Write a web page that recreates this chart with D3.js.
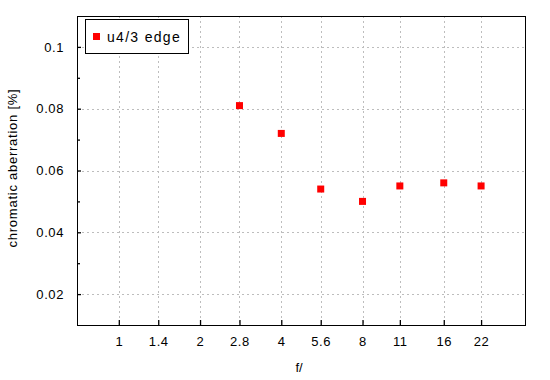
<!DOCTYPE html>
<html><head><meta charset="utf-8">
<script src="https://cdn.jsdelivr.net/npm/d3@7"></script>
<style>body{margin:0;background:#fff}text{font-family:"Liberation Sans",Arial,sans-serif;fill:#000}</style>
</head><body><svg id="c" width="550" height="380"></svg>
<script>
const fStops = [1, 1.4, 2, 2.8, 4, 5.6, 8, 11, 16, 22];
const dataF = [2.8, 4, 5.6, 8, 11, 16, 22];
const dataCA = [0.081, 0.072, 0.054, 0.050, 0.055, 0.056, 0.055];
const yMajor = [0.02, 0.04, 0.06, 0.08, 0.1];
const yMinor = [0.03, 0.05, 0.07, 0.09];
const seriesName = "u4/3 edge";

const svg = d3.select("#c");
const L = 77, R = 525, T = 16, B = 325;
const x = d3.scaleLog().base(2).domain([0.7, 32]).range([L, R]);
const y = d3.scaleLinear().domain([0.01, 0.11]).range([B, T]);

// grid
const g = svg.append("g").attr("stroke", "#bdbdbd").attr("stroke-dasharray", "2,3").attr("shape-rendering", "crispEdges");
g.selectAll("line.v").data(fStops).join("line")
  .attr("x1", d => Math.round(x(d)) + 0.5).attr("x2", d => Math.round(x(d)) + 0.5)
  .attr("y1", T).attr("y2", B);
g.selectAll("line.h").data(yMajor).join("line")
  .attr("y1", d => Math.round(y(d)) + 0.5).attr("y2", d => Math.round(y(d)) + 0.5)
  .attr("x1", L).attr("x2", R);

// frame
svg.append("rect").attr("x", L + 0.5).attr("y", T + 0.5).attr("width", R - L).attr("height", B - T)
  .attr("fill", "none").attr("stroke", "#000").attr("stroke-width", 1.3).attr("shape-rendering", "crispEdges");

// axes
const xAxis = d3.axisBottom(x).tickValues(fStops).tickFormat(d => String(d)).tickSizeInner(-5).tickSizeOuter(0).tickPadding(12);
const xg = svg.append("g").attr("transform", `translate(0,${B})`).call(xAxis);
xg.select(".domain").remove();
xg.selectAll("line").attr("stroke", "#000").attr("stroke-width", 1.3);
xg.selectAll("text").attr("font-size", 13).attr("font-family", '"Liberation Sans",Arial,sans-serif').attr("letter-spacing", 0.6);

const yAxis = d3.axisLeft(y).tickValues(yMajor).tickFormat(d => String(+d.toFixed(2))).tickSizeInner(-4).tickSizeOuter(0).tickPadding(13);
const yg = svg.append("g").attr("transform", `translate(${L},0)`).call(yAxis);
yg.select(".domain").remove();
yg.selectAll("line").attr("stroke", "#000").attr("stroke-width", 1.3);
yg.selectAll("text").attr("font-size", 13).attr("font-family", '"Liberation Sans",Arial,sans-serif').attr("letter-spacing", 0.6);

const ymg = svg.append("g").attr("transform", `translate(${L},0)`).call(d3.axisLeft(y).tickValues(yMinor).tickFormat("").tickSizeInner(-3).tickSizeOuter(0));
ymg.select(".domain").remove();
ymg.selectAll("line").attr("stroke", "#000").attr("stroke-width", 1.3);

// points
svg.selectAll("rect.pt").data(dataF.map((f, i) => [f, dataCA[i]])).join("rect")
  .attr("x", d => x(d[0]) - 3.5).attr("y", d => y(d[1]) - 3.5)
  .attr("width", 7).attr("height", 7).attr("fill", "#ff0000");

// axis labels
svg.append("text").attr("x", 299).attr("y", 372).attr("text-anchor", "middle").attr("font-size", 13).text("f/");
svg.append("text").attr("transform", "translate(17,168) rotate(-90)").attr("text-anchor", "middle")
  .attr("font-size", 13).attr("letter-spacing", 0.75).text("chromatic aberration [%]");

// legend
svg.append("rect").attr("x", 85.5).attr("y", 19.5).attr("width", 103).attr("height", 34)
  .attr("fill", "#fff").attr("stroke", "#000").attr("stroke-width", 1);
svg.append("rect").attr("x", 93).attr("y", 33).attr("width", 7).attr("height", 7).attr("fill", "#ff0000");
svg.append("text").attr("x", 107).attr("y", 42).attr("font-size", 14).attr("letter-spacing", 1.3).text(seriesName);
</script></body></html>
